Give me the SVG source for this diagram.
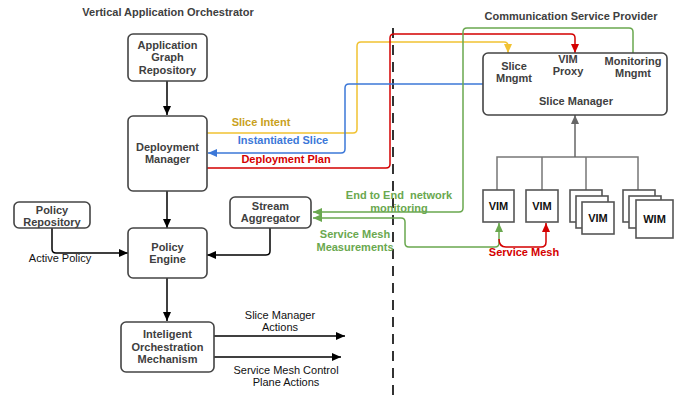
<svg xmlns="http://www.w3.org/2000/svg" width="681" height="398" viewBox="0 0 681 398">
<defs>
<style>
.box{fill:#fff;stroke:#444;stroke-width:1.6}
.sq{fill:#fff;stroke:#555;stroke-width:1.6}
.t{font-family:"Liberation Sans",Arial,sans-serif;font-size:11px;font-weight:bold;fill:#404040;text-anchor:middle}
.n{font-family:"Liberation Sans",Arial,sans-serif;font-size:11px;fill:#111;text-anchor:middle}
.k{font-family:"Liberation Sans",Arial,sans-serif;font-size:11px;font-weight:bold;fill:#111;text-anchor:middle}
.c{fill:none;stroke-width:1.5}
</style>
<marker id="ak" markerWidth="10" markerHeight="10" refX="9" refY="5" orient="auto" markerUnits="userSpaceOnUse"><path d="M0,1 L9,5 L0,9 z" fill="#000"/></marker>
<marker id="ag" markerWidth="10" markerHeight="10" refX="9" refY="5" orient="auto" markerUnits="userSpaceOnUse"><path d="M0,1 L9,5 L0,9 z" fill="#666"/></marker>
<marker id="ay" markerWidth="10" markerHeight="10" refX="9" refY="5" orient="auto" markerUnits="userSpaceOnUse"><path d="M0,1 L9,5 L0,9 z" fill="#f1c232"/></marker>
<marker id="ar" markerWidth="10" markerHeight="10" refX="9" refY="5" orient="auto" markerUnits="userSpaceOnUse"><path d="M0,1 L9,5 L0,9 z" fill="#d40000"/></marker>
<marker id="ab" markerWidth="10" markerHeight="10" refX="9" refY="5" orient="auto" markerUnits="userSpaceOnUse"><path d="M0,1 L9,5 L0,9 z" fill="#3c78d8"/></marker>
<marker id="an" markerWidth="10" markerHeight="10" refX="9" refY="5" orient="auto-start-reverse" markerUnits="userSpaceOnUse"><path d="M0,1 L9,5 L0,9 z" fill="#6aa84f"/></marker>
</defs>
<rect width="681" height="398" fill="#fff"/>

<text class="t" x="168" y="16">Vertical Application Orchestrator</text>
<text class="t" x="571" y="20">Communication Service Provider</text>

<g id="connectors">
<line x1="393" y1="28" x2="393" y2="398" stroke="#000" stroke-width="1.6" stroke-dasharray="10,7"/>
<path class="c" stroke="#f1c232" d="M207,133 H353 Q357,133 357,129 V46 Q357,42 361,42 H504 Q508,42 508,46 V53" marker-end="url(#ay)"/>
<path class="c" stroke="#d40000" d="M207,168 H386 Q390,168 390,164 V38 Q390,34 394,34 H571 Q575,34 575,38 V53" marker-end="url(#ar)"/>
<path class="c" stroke="#3c78d8" d="M483,84 H349 Q345,84 345,88 V149 Q345,153 341,153 H208" marker-end="url(#ab)"/>
<path class="c" stroke="#6aa84f" d="M633,53 V32 Q633,28 629,28 H467 Q463,28 463,32 V208 Q463,212 459,212 H313" marker-end="url(#an)"/>
<path class="c" stroke="#6aa84f" d="M313,218 H401 Q405,218 405,222 V243 Q405,247 409,247 H495 Q499,247 499,243 V223" marker-start="url(#an)" marker-end="url(#an)"/>
<path class="c" stroke="#d40000" d="M499,239 Q499,247 506,247 H541 Q546,247 546,242 V223" marker-end="url(#ar)"/>
<path class="c" stroke="#000" d="M167,81 V115" marker-end="url(#ak)"/>
<path class="c" stroke="#000" d="M167,191 V228" marker-end="url(#ak)"/>
<path class="c" stroke="#000" d="M52,228 V249 Q52,253 56,253 H128" marker-end="url(#ak)"/>
<path class="c" stroke="#000" d="M270,228 V251 Q270,255 266,255 H207" marker-end="url(#ak)"/>
<path class="c" stroke="#000" d="M167,278 V321" marker-end="url(#ak)"/>
<path class="c" stroke="#000" d="M214,336 H345" marker-end="url(#ak)"/>
<path class="c" stroke="#000" d="M214,357 H341" marker-end="url(#ak)"/>
<path class="c" stroke="#777" d="M497,190 V157 H638 V190 M542,157 V190 M586,157 V190"/>
<path class="c" stroke="#666" d="M575,157 V115" marker-end="url(#ag)"/>
</g>

<g id="labels">
<text class="t" x="261" y="126" style="fill:#c9a11d">Slice Intent</text>
<text class="t" x="283" y="144" style="fill:#3c78d8">Instantiated Slice</text>
<text class="t" x="286" y="163" style="fill:#d40000">Deployment Plan</text>
<text class="t" x="399" y="199" style="fill:#6aa84f">End to End&#160; network</text>
<text class="t" x="399" y="212" style="fill:#6aa84f">monitoring</text>
<text class="t" x="355" y="238" style="fill:#6aa84f">Service Mesh</text>
<text class="t" x="355" y="251" style="fill:#6aa84f">Measurements</text>
<text class="t" x="524" y="256" style="fill:#d40000">Service Mesh</text>
<text class="n" x="60" y="262">Active Policy</text>
<text class="n" x="280" y="319">Slice Manager</text>
<text class="n" x="280" y="331">Actions</text>
<text class="n" x="286" y="374">Service Mesh Control</text>
<text class="n" x="286" y="386">Plane Actions</text>
</g>

<g id="app-graph-repo">
<rect class="box" x="128" y="34" width="79" height="47" rx="5"/>
<text class="t" x="167.5" y="49">Application</text>
<text class="t" x="167.5" y="61">Graph</text>
<text class="t" x="167.5" y="74">Repository</text>
</g>
<g id="deployment-manager">
<rect class="box" x="128" y="116" width="79" height="75" rx="5"/>
<text class="t" x="167.5" y="151">Deployment</text>
<text class="t" x="167.5" y="163">Manager</text>
</g>
<g id="policy-repository">
<rect class="box" x="14" y="202" width="76" height="26" rx="5"/>
<text class="t" x="52" y="213.5">Policy</text>
<text class="t" x="52" y="225.5">Repository</text>
</g>
<g id="stream-aggregator">
<rect class="box" x="230" y="197" width="81" height="31" rx="5"/>
<text class="t" x="270.5" y="210">Stream</text>
<text class="t" x="270.5" y="222">Aggregator</text>
</g>
<g id="policy-engine">
<rect class="box" x="128" y="228" width="79" height="50" rx="5"/>
<text class="t" x="167.5" y="251">Policy</text>
<text class="t" x="167.5" y="263">Engine</text>
</g>
<g id="orchestration-mechanism">
<rect class="box" x="121" y="322" width="93" height="50" rx="5"/>
<text class="t" x="167.5" y="338">Inteligent</text>
<text class="t" x="167.5" y="351">Orchestration</text>
<text class="t" x="167.5" y="363">Mechanism</text>
</g>
<g id="slice-manager">
<rect class="box" x="483" y="53" width="184" height="62" rx="5"/>
<text class="t" x="514" y="70">Slice</text>
<text class="t" x="514" y="82">Mngmt</text>
<text class="t" x="568" y="63">VIM</text>
<text class="t" x="568" y="75">Proxy</text>
<text class="t" x="633" y="65">Monitoring</text>
<text class="t" x="633" y="77">Mngmt</text>
<text class="t" x="576" y="105">Slice Manager</text>
</g>
<g id="vim1">
<rect class="sq" x="483" y="190" width="31" height="32"/>
<text class="k" x="498.5" y="210">VIM</text>
</g>
<g id="vim2">
<rect class="sq" x="526" y="190" width="32" height="32"/>
<text class="k" x="542" y="210">VIM</text>
</g>
<g id="vim-stack">
<rect class="sq" x="570" y="190" width="32" height="32"/>
<rect class="sq" x="576" y="196" width="32" height="32"/>
<rect class="sq" x="582" y="202" width="32" height="32"/>
<text class="k" x="598" y="222">VIM</text>
</g>
<g id="wim-stack">
<rect class="sq" x="623" y="190" width="32" height="32"/>
<rect class="sq" x="629" y="196" width="32" height="32"/>
<rect class="sq" x="636" y="200" width="37" height="38"/>
<text class="k" x="654.5" y="223">WIM</text>
</g>
</svg>
